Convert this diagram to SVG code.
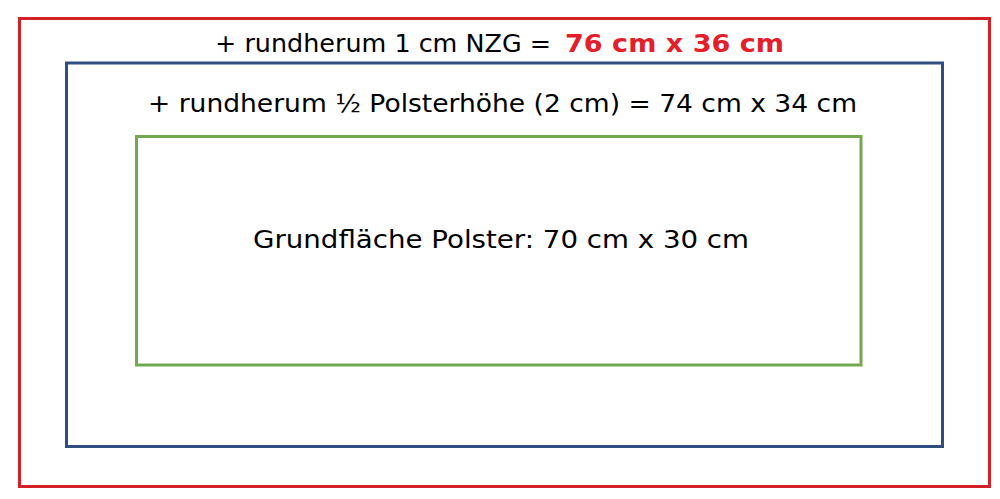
<svg xmlns="http://www.w3.org/2000/svg" width="1000" height="499" viewBox="0 0 1000 499">
<style>
text{font-family:"DejaVu Sans","Open Sans",sans-serif;font-size:25px;fill:#000}
.box{fill:none;stroke-width:3}
</style>
<rect width="1000" height="499" fill="#fff"/>
<g id="outer">
<rect class="box" x="19.5" y="18.5" width="970" height="468" stroke="#d42027"/>
<text x="215" y="52" textLength="336" lengthAdjust="spacingAndGlyphs">+ rundherum 1 cm NZG =</text>
<text x="565" y="52" textLength="219" lengthAdjust="spacingAndGlyphs" style="fill:#e3202a;font-weight:bold">76 cm x 36 cm</text>
</g>
<g id="middle">
<rect class="box" x="66.5" y="63" width="876" height="383.5" stroke="#2f4f80"/>
<text x="148" y="112" textLength="709" lengthAdjust="spacingAndGlyphs">+ rundherum ½ Polsterhöhe (2 cm) = 74 cm x 34 cm</text>
</g>
<g id="inner">
<rect class="box" x="136.5" y="136.5" width="724.5" height="228.5" stroke="#72a84e"/>
<text x="253" y="248" textLength="496" lengthAdjust="spacingAndGlyphs">Grundfläche Polster: 70 cm x 30 cm</text>
</g>
<g id="connectors"/>
</svg>
